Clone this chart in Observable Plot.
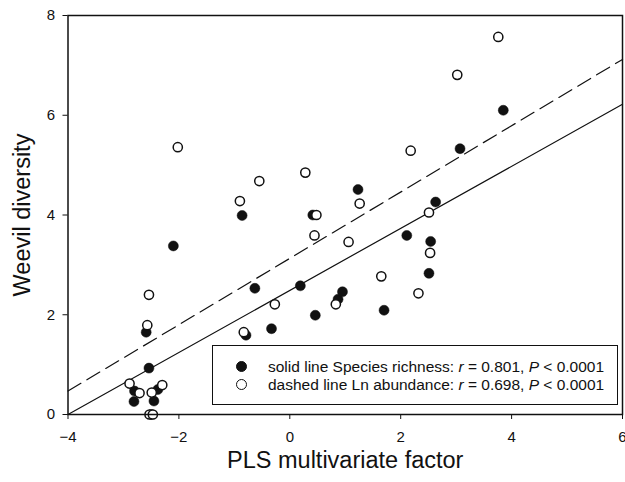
<!DOCTYPE html>
<html><head><meta charset="utf-8">
<script src="https://cdn.jsdelivr.net/npm/d3@7"></script>
<script src="https://cdn.jsdelivr.net/npm/@observablehq/plot@0.6"></script>
<style>
html,body{margin:0;padding:0;background:#fff;overflow:hidden;}
#wrap{position:relative;width:625px;height:482px;font-family:"Liberation Sans",Arial,sans-serif;}
#legend{position:absolute;left:212px;top:345px;width:404px;height:58px;border:1.5px solid #111;background:#fff;font-size:15.5px;color:#111;}
#legend .row{position:absolute;left:0;height:18px;line-height:18px;white-space:nowrap;}
#legend .mk{position:absolute;left:23px;top:3px;width:11px;height:11px;border-radius:50%;box-sizing:border-box;}
#legend .txt{position:absolute;left:55px;top:0;}
</style></head>
<body><div id="wrap"></div>
<script>
// Species richness (filled circles)
const richX = [-2.81,-2.80,-2.45,-2.38,-2.54,-2.59,-2.10,-0.86,-0.79,-0.63,-0.33,0.19,0.415,0.46,0.87,0.95,1.23,1.70,2.11,2.51,2.54,2.63,3.07,3.85,-2.50];
const richY = [0.26,0.47,0.27,0.50,0.93,1.65,3.38,3.99,1.59,2.53,1.72,2.58,4.00,1.99,2.31,2.46,4.51,2.09,3.59,2.83,3.47,4.26,5.33,6.10,0.00];
// Ln abundance (open circles)
const abunX = [-2.89,-2.71,-2.49,-2.30,-2.53,-2.47,-2.57,-2.54,-2.02,-0.90,-0.83,-0.55,-0.27,0.28,0.445,0.48,0.83,1.06,1.26,1.65,2.18,2.32,2.51,2.53,3.02,3.76];
const abunY = [0.62,0.43,0.44,0.59,0.00,0.00,1.79,2.40,5.36,4.28,1.65,4.68,2.21,4.85,3.59,4.00,2.21,3.46,4.23,2.77,5.29,2.43,4.05,3.24,6.81,7.57];
// regression lines (endpoints over x range)
const lineX = [-4, 6];
const solidY = [0.0, 6.22];
const dashedY = [0.47, 7.12];
const xTicks = [-4,-2,0,2,4,6];
const yTicks = [0,2,4,6,8];
const xLabel = "PLS multivariate factor";
const yLabel = "Weevil diversity";

const rich = richX.map((x,i)=>({x, y: richY[i]}));
const abun = abunX.map((x,i)=>({x, y: abunY[i]}));
const solid = lineX.map((x,i)=>({x, y: solidY[i]}));
const dashed = lineX.map((x,i)=>({x, y: dashedY[i]}));

const chart = Plot.plot({
  width: 625, height: 482,
  marginLeft: 67.5, marginRight: 3, marginTop: 15, marginBottom: 68,
  style: {fontFamily: "Liberation Sans, Arial, sans-serif", background: "#fff", color: "#111", overflow: "visible"},
  x: {domain: [-4, 6]},
  y: {domain: [0, 8]},
  marks: [
    Plot.line(solid, {x: "x", y: "y", stroke: "#111", strokeWidth: 1.2}),
    Plot.line(dashed, {x: "x", y: "y", stroke: "#111", strokeWidth: 1.2, strokeDasharray: "15,7"}),
    Plot.dot(rich, {x: "x", y: "y", r: 5, fill: "#111", stroke: "#111", strokeWidth: 0.5}),
    Plot.dot(abun, {x: "x", y: "y", r: 4.6, fill: "#fff", stroke: "#111", strokeWidth: 1.5}),
    Plot.frame({stroke: "#111", strokeWidth: 1.5}),
    Plot.axisX({ticks: xTicks, tickSize: 5, tickPadding: 12, fontSize: 15, label: null}),
    Plot.axisY({ticks: yTicks, tickSize: 5, tickPadding: 8, fontSize: 15, label: null}),
    Plot.text([xLabel], {text: d => d, frameAnchor: "bottom", dy: 53, fontSize: 23.5, fill: "#111"}),
    Plot.text([yLabel], {text: d => d, frameAnchor: "left", textAnchor: "middle", dx: -46, rotate: -90, fontSize: 23.5, fill: "#111"})
  ]
});
const wrap = document.getElementById("wrap");
wrap.appendChild(chart);
const leg = document.createElement("div");
leg.id = "legend";
leg.innerHTML = `
<div class="row" style="top:12px;width:100%"><span class="mk" style="background:#111;border:1px solid #111"></span><span class="txt">solid line Species richness: <i>r</i> = 0.801, <i>P</i> &lt; 0.0001</span></div>
<div class="row" style="top:30px;width:100%"><span class="mk" style="background:#fff;border:1.5px solid #111"></span><span class="txt">dashed line Ln abundance: <i>r</i> = 0.698, <i>P</i> &lt; 0.0001</span></div>`;
wrap.appendChild(leg);
</script>
</body></html>
